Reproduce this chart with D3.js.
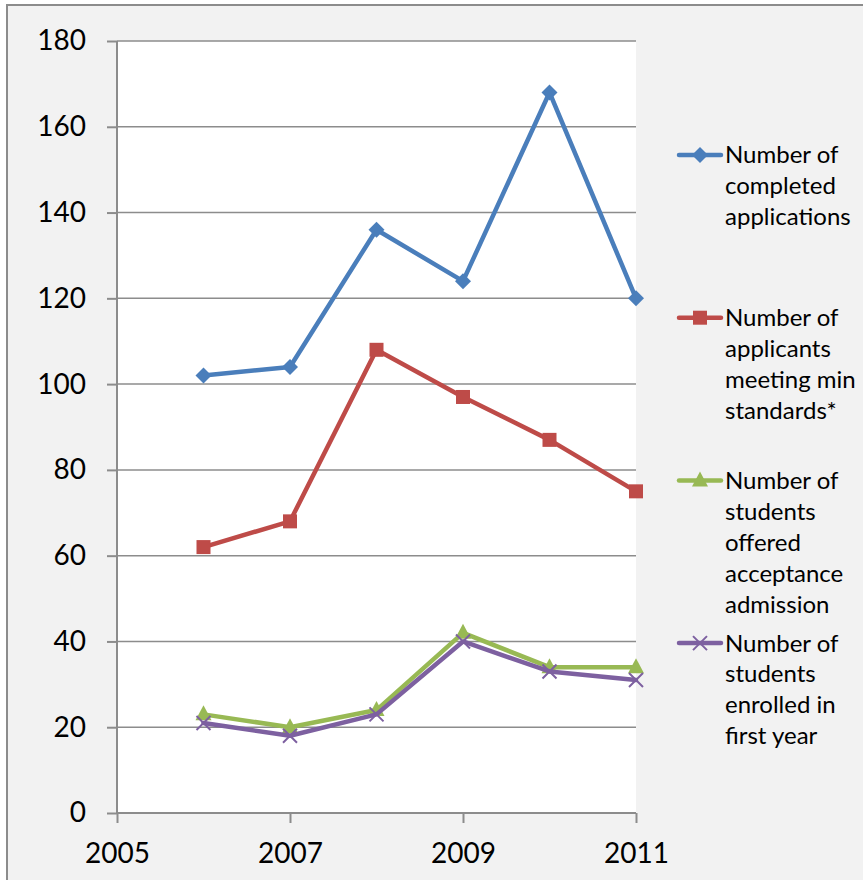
<!DOCTYPE html>
<html>
<head>
<meta charset="utf-8">
<script src="https://cdn.jsdelivr.net/npm/d3@7/dist/d3.min.js"></script>
<style>
    html, body { margin: 0; padding: 0; background: #ffffff; }
    svg text { font-family: "Lato", "Liberation Sans", sans-serif; fill: #000; }
</style>
</head>
<body>
<div id="chart"></div>
<script>
/*
 * Chart data.
 */
var years = [2006, 2007, 2008, 2009, 2010, 2011];
var completedApplications = [102, 104, 136, 124, 168, 120];
var meetingStandards = [62, 68, 108, 97, 87, 75];
var offeredAdmission = [23, 20, 24, 42, 34, 34];
var enrolledFirstYear = [21, 18, 23, 40, 33, 31];
var xTicks = [2005, 2007, 2009, 2011];
var yTicks = [0, 20, 40, 60, 80, 100, 120, 140, 160, 180];
var seriesNames = [
    ['Number of', 'completed', 'applications'],
    ['Number of', 'applicants', 'meeting min', 'standards*'],
    ['Number of', 'students', 'offered', 'acceptance', 'admission'],
    ['Number of', 'students', 'enrolled in', 'first year']
];

var series = [
    { values: completedApplications, color: '#4a7ebb', marker: 'diamond' },
    { values: meetingStandards,      color: '#be4b48', marker: 'square' },
    { values: offeredAdmission,      color: '#98b954', marker: 'triangle' },
    { values: enrolledFirstYear,     color: '#7d60a0', marker: 'cross' }
];

var width = 863, height = 880;
var plot = { left: 117, right: 636, top: 41, bottom: 813 };

var svg = d3.select('#chart').append('svg')
    .attr('width', width)
    .attr('height', height);

/*
 * Chart area background and border.
 */
svg.append('rect')
    .attr('x', 7).attr('y', 5)
    .attr('width', width + 20).attr('height', height + 20)
    .attr('fill', '#f2f2f2')
    .attr('stroke', '#8c8c8c')
    .attr('stroke-width', 2);

svg.append('rect')
    .attr('x', plot.left).attr('y', plot.top)
    .attr('width', plot.right - plot.left)
    .attr('height', plot.bottom - plot.top)
    .attr('fill', '#ffffff');

/*
 * Scales.
 */
var x = d3.scaleLinear().domain([2005, 2011]).range([plot.left, plot.right]);
var y = d3.scaleLinear().domain([0, 180]).range([plot.bottom, plot.top]);

/*
 * Gridlines.
 */
svg.append('g')
    .selectAll('line')
    .data(yTicks.filter(d => d > 0))
    .join('line')
    .attr('x1', plot.left).attr('x2', plot.right)
    .attr('y1', d => y(d)).attr('y2', d => y(d))
    .attr('stroke', '#8c8c8c')
    .attr('stroke-width', 1.5);

/*
 * Axes.
 */
var yAxis = svg.append('g')
    .attr('transform', 'translate(' + plot.left + ',0)')
    .call(d3.axisLeft(y).tickValues(yTicks).tickSize(10).tickPadding(21));

var xAxis = svg.append('g')
    .attr('transform', 'translate(0,' + plot.bottom + ')')
    .call(d3.axisBottom(x).tickValues(xTicks).tickSize(10).tickPadding(20).tickFormat(d3.format('d')));

[yAxis, xAxis].forEach(function(axis) {
    axis.select('.domain').attr('stroke', '#8c8c8c').attr('stroke-width', 2);
    axis.selectAll('.tick line').attr('stroke', '#8c8c8c').attr('stroke-width', 2);
    axis.selectAll('.tick text')
        .style('font-family', '"Lato", "Liberation Sans", sans-serif')
        .style('font-size', '28px')
        .attr('fill', '#000');
});
yAxis.select('.domain').attr('d', 'M0,' + plot.bottom + 'V' + plot.top);
xAxis.select('.domain').attr('d', 'M' + plot.left + ',0H' + plot.right);

/*
 * Marker drawing.
 */
function drawMarker(g, type, color) {
    if (type === 'diamond') {
        g.append('path').attr('d', 'M0,-8L8,0L0,8L-8,0Z').attr('fill', color);
    } else if (type === 'square') {
        g.append('rect').attr('x', -7).attr('y', -7).attr('width', 14).attr('height', 14).attr('fill', color);
    } else if (type === 'triangle') {
        g.append('path').attr('d', 'M0,-9L8,6L-8,6Z').attr('fill', color);
    } else {
        g.append('path').attr('d', 'M-7,-7L7,7M-7,7L7,-7')
            .attr('stroke', color).attr('stroke-width', 2).attr('fill', 'none');
    }
}

/*
 * Series lines and markers.
 */
var line = d3.line()
    .x((d, i) => x(years[i]))
    .y(d => y(d));

series.forEach(function(s) {
    svg.append('path')
        .attr('d', line(s.values))
        .attr('fill', 'none')
        .attr('stroke', s.color)
        .attr('stroke-width', 4.5)
        .attr('stroke-linejoin', 'round')
        .attr('stroke-linecap', 'round');

    s.values.forEach(function(v, i) {
        var g = svg.append('g').attr('transform', 'translate(' + x(years[i]) + ',' + y(v) + ')');
        drawMarker(g, s.marker, s.color);
    });
});

/*
 * Legend.
 */
var legendTop = 155, legendStep = 162.7, lineHeight = 31;

series.forEach(function(s, i) {
    var cy = legendTop + i * legendStep;
    var g = svg.append('g').attr('transform', 'translate(0,' + cy + ')');

    g.append('line')
        .attr('x1', 679).attr('x2', 721)
        .attr('y1', 0).attr('y2', 0)
        .attr('stroke', s.color)
        .attr('stroke-width', 4.5)
        .attr('stroke-linecap', 'round');

    var m = g.append('g').attr('transform', 'translate(700,0)');
    drawMarker(m, s.marker, s.color);

    g.append('text')
        .attr('x', 725)
        .style('font-size', '24px')
        .selectAll('tspan')
        .data(seriesNames[i])
        .join('tspan')
        .attr('x', 725)
        .attr('y', (d, j) => j * lineHeight)
        .attr('dy', '0.35em')
        .text(d => d);
});
</script>
</body>
</html>
